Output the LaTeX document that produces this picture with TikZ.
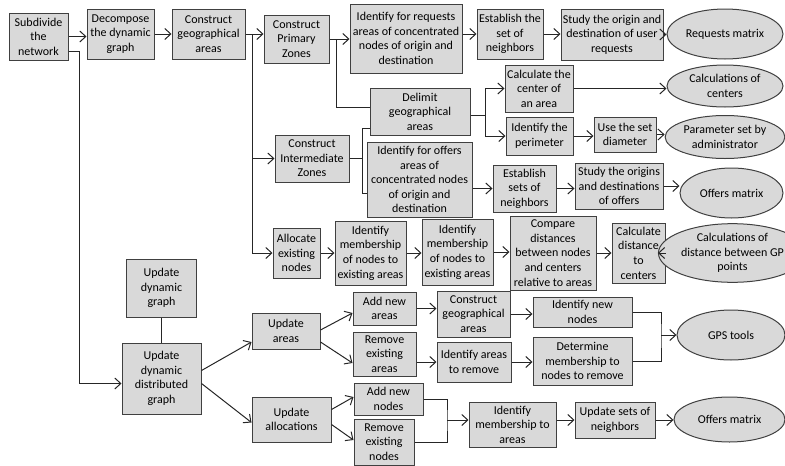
\documentclass[tikz,border=0pt]{standalone}
\usepackage{fontspec}
\setmainfont{Carlito}
\usetikzlibrary{arrows.meta,shapes.geometric}
\begin{document}
\begin{tikzpicture}[x=1pt,y=-1pt,
  every node/.style={font=\fontsize{12}{14.6}\selectfont, align=center, inner sep=1pt},
  box/.style={rectangle, draw=black!75, fill=black!15, line width=1pt},
  oval/.style={ellipse, draw=black!75, fill=black!15, line width=1pt},
  sz/.style 2 args={minimum width=#1pt, minimum height=#2pt},
  link/.style={line width=1pt, draw=black!85},
  arr/.style={link, -{Straight Barb[length=6pt,width=11pt]}}]
\useasboundingbox (0,0) rectangle (785,466);

% ---- top chain ----
\node[box, sz={59}{47}] (sub) at (38.5,36.5) {Subdivide\\the\\network};
\node[box, sz={67}{50}] (dec) at (120.5,34) {Decompose\\the dynamic\\graph};
\node[box, sz={73}{50}] (geo) at (208.5,34) {Construct\\geographical\\areas};
\node[box, sz={65}{48}] (pz) at (296.5,39) {Construct\\Primary\\Zones};
\node[box, sz={112}{69}] (idreq) at (406,38.5) {Identify for requests\\areas of concentrated\\nodes of origin and\\destination};
\node[box, sz={66}{50}] (est) at (510,34) {Establish the\\set of\\neighbors};
\node[box, sz={102}{51}] (study) at (612,34.5) {Study the origin and\\destination of user\\requests};
\node[oval, sz={116}{50}] (reqm) at (725,34) {Requests matrix};

% ---- delimitation of areas ----
\node[box, sz={100}{47}] (delim) at (420,111.5) {Delimit\\geographical\\areas};
\node[box, sz={68}{47}] (calc) at (539,88.5) {Calculate the\\center of\\an area};
\node[box, sz={67}{38}] (perim) at (539.5,136) {Identify the\\perimeter};
\node[box, sz={62}{35}] (diam) at (625,134.5) {Use the set\\diameter};
\node[oval, sz={116}{42}] (cent) at (725,86) {Calculations of\\centers};
\node[oval, sz={116}{43}] (param) at (725,137) {Parameter set by\\administrator};

% ---- intermediate zones ----
\node[box, sz={74}{47}] (iz) at (312,158.5) {Construct\\Intermediate\\Zones};
\node[box, sz={105}{75}] (idoff) at (419.5,179.5) {Identify for offers\\areas of\\concentrated nodes\\of origin and\\destination};
\node[box, sz={63}{47}] (ests) at (524.5,188.5) {Establish\\sets of\\neighbors};
\node[box, sz={88}{46}] (studyo) at (619,186) {Study the origins\\and destinations\\of offers};
\node[oval, sz={103}{50}] (offm) at (731.5,193) {Offers matrix};

% ---- allocation of nodes ----
\node[box, sz={47}{50}] (alloc) at (296.5,253) {Allocate\\existing\\nodes};
\node[box, sz={71}{64}] (memA) at (370.5,253) {Identify\\membership\\of nodes to\\existing areas};
\node[box, sz={71}{66}] (memB) at (457.5,252) {Identify\\membership\\of nodes to\\existing areas};
\node[box, sz={86}{74}] (cmp) at (553,253) {Compare\\distances\\between nodes\\and centers\\relative to areas};
\node[box, sz={53}{60}] (cdist) at (638.5,253) {Calculate\\distance\\to\\centers};
\node[oval, sz={105}{50}] (gpd) at (732.5,253) {Calculations of\\distance between GP\\points};

% ---- dynamic update ----
\node[box, sz={70}{58}] (udg) at (161.5,288) {Update\\dynamic\\graph};
\node[box, sz={79}{71}] (uddg) at (161.5,378.5) {Update\\dynamic\\distributed\\graph};
\node[box, sz={68}{36}] (ua) at (286,331) {Update\\areas};
\node[box, sz={79}{45}] (ual) at (291.5,419.5) {Update\\allocations};
\node[box, sz={63}{33}] (ana) at (384.5,308.5) {Add new\\areas};
\node[box, sz={63}{44}] (rea) at (384.5,354) {Remove\\existing\\areas};
\node[box, sz={73}{46}] (geob) at (473.5,314) {Construct\\geographical\\areas};
\node[box, sz={74}{40}] (iar) at (474,362) {Identify areas\\to remove};
\node[box, sz={99}{30}] (inn) at (582.5,312) {Identify new\\nodes};
\node[box, sz={99}{48}] (det) at (582.5,361) {Determine\\membership to\\nodes to remove};
\node[oval, sz={108}{50}] (gps) at (731,335) {GPS tools};
\node[box, sz={69}{32}] (ann) at (388.5,399) {Add new\\nodes};
\node[box, sz={60}{46}] (ren) at (384,442) {Remove\\existing\\nodes};
\node[box, sz={87}{45}] (ima) at (512.5,424.5) {Identify\\membership to\\areas};
\node[box, sz={80}{36}] (usn) at (615,420) {Update sets of\\neighbors};
\node[oval, sz={111}{45}] (offmb) at (729.5,419.5) {Offers matrix};

% ---- junction points of the branching lines ----
\coordinate (j0) at (79,51.5);
\coordinate (j1) at (252,34);
\coordinate (j2) at (336,39);
\coordinate (j3) at (485,115);
\coordinate (j4a) at (362,128);
\coordinate (j4b) at (362,193);
\coordinate (j5) at (661,335);
\coordinate (j6) at (447,420);

% ---- connectors: top chain ----
\draw[arr] (sub.east) -- (sub.east -| dec.west);
\draw[arr] (dec.east) -- (dec.east -| geo.west);
\draw[arr] (geo.east) -- (geo.east -| pz.west);
\draw[arr] (j1) |- (iz.west);
\draw[arr] (j1) |- (alloc.west);
\draw[arr] (sub.east |- j0) -- (j0) |- ([yshift=-5pt]uddg.west);
\draw[arr] (pz.east) -- (pz.east -| idreq.west);
\draw[link] (j2) |- ([yshift=4pt]delim.west);
\draw[arr] (idreq.east |- est.west) -- (est.west);
\draw[arr] (est.east) -- (est.east -| study.west);
\draw[arr] (study.east) -- (study.east -| reqm.west);

% ---- connectors: delimitation ----
\draw[link] (delim.east |- j3) -- (j3);
\draw[arr] (j3) |- (calc.west);
\draw[arr] (j3) |- (perim.west);
\draw[arr] (calc.east) -- (calc.east -| cent.west);
\draw[arr] (perim.east) -- (perim.east -| diam.west);
\draw[arr] (diam.east) -- (diam.east -| param.west);

% ---- connectors: intermediate zones ----
\draw[link] (iz.east) -- (iz.east -| j4a);
\draw[link] (j4a -| delim.west) -- (j4a) -- (j4b) -- (j4b -| idoff.west);
\draw[arr] (idoff.east |- ests.west) -- (ests.west);
\draw[arr] (ests.east) -- (ests.east -| studyo.west);
\draw[arr] (studyo.east) -- (studyo.east -| offm.west);

% ---- connectors: allocation ----
\draw[arr] (alloc.east) -- (alloc.east -| memA.west);
\draw[arr] (memA.east) -- (memA.east -| memB.west);
\draw[arr] (memB.east) -- (memB.east -| cmp.west);
\draw[arr] (cmp.east) -- (cmp.east -| cdist.west);
\draw[arr] (cdist.east) -- (cdist.east -| gpd.west);

% ---- connectors: dynamic update ----
\draw[link] (udg.south) -- (uddg.north);
\draw[arr] ([yshift=8pt]uddg.east) -- ([yshift=-11pt]ua.west);
\draw[arr] ([yshift=-5pt]uddg.east) -- ([yshift=-3pt]ual.west);
\draw[arr] ([yshift=1pt]ua.east) -- ([yshift=-4.5pt]ana.west);
\draw[arr] ([yshift=-11pt]ua.east) -- ([yshift=-9pt]rea.west);
\draw[arr] ([yshift=10pt]ual.east) -- ([yshift=2pt]ann.west);
\draw[arr] ([yshift=-5pt]ual.east) -- ([yshift=2pt]ren.west);
\draw[arr] (ana.east) -- (ana.east -| geob.west);
\draw[arr] (geob.east) -- (geob.east -| inn.west);
\draw[arr] (rea.east |- iar.west) -- (iar.west);
\draw[arr] (iar.east) -- (iar.east -| det.west);
\draw[link] (inn.east) -| (j5) |- (det.east);
\draw[arr] (j5) -- (j5 -| gps.west);
\draw[link] (ann.east) -| (j6) |- (ren.east);
\draw[arr] (j6) -- (j6 -| ima.west);
\draw[arr] (ima.east |- usn.west) -- (usn.west);
\draw[arr] (usn.east) -- (usn.east -| offmb.west);
\end{tikzpicture}
\end{document}
